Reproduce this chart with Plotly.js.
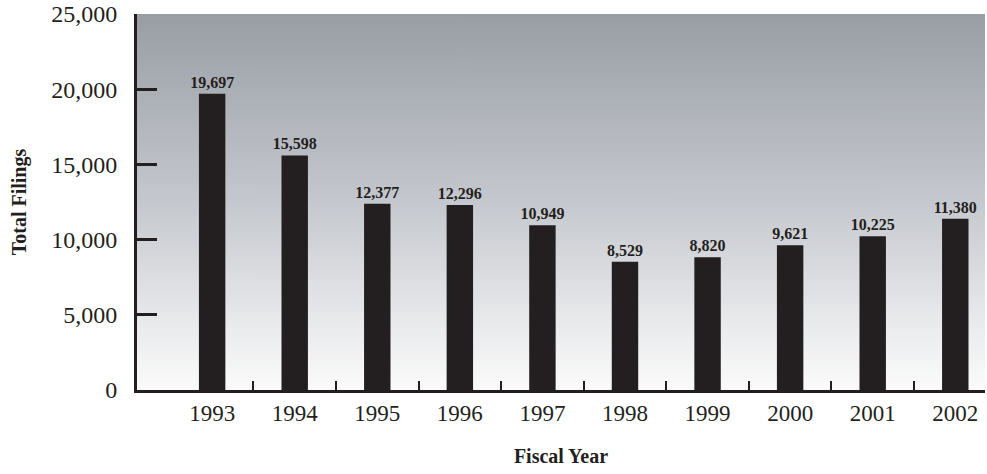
<!DOCTYPE html>
<html>
<head>
<meta charset="utf-8">
<script src="https://cdn.plot.ly/plotly-3.0.1.min.js"></script>
<style>html,body{margin:0;padding:0;background:#fff;}#chart{width:987px;height:474px;}</style>
</head>
<body>
<div id="chart"></div>
<script>
var years = ["1993","1994","1995","1996","1997","1998","1999","2000","2001","2002"];
var filings = [19697, 15598, 12377, 12296, 10949, 8529, 8820, 9621, 10225, 11380];
var yTickVals = [0, 5000, 10000, 15000, 20000, 25000];

var idx = years.map(function(_, i){ return i; });
var between = idx.slice(0, -1).map(function(i){ return i + 0.5; });

// vertical grey-to-white gradient for the plot area
var cv = document.createElement('canvas');
cv.width = 4; cv.height = 400;
var cx = cv.getContext('2d');
var g = cx.createLinearGradient(0, 0, 0, 400);
g.addColorStop(0, '#999ea5');
g.addColorStop(0.5, '#c5c8ce');
g.addColorStop(0.82, '#e9eaec');
g.addColorStop(1, '#fbfbfb');
cx.fillStyle = g; cx.fillRect(0, 0, 4, 400);
var bg = cv.toDataURL();

var font = '"Liberation Serif", "Times New Roman", serif';
var ink = '#231f20';

var trace = {
  type: 'bar',
  x: idx,
  y: filings,
  width: 0.32,
  marker: {color: ink, line: {width: 0}},
  text: filings.map(function(v){ return v.toLocaleString('en-US'); }),
  textposition: 'outside',
  constraintext: 'none',
  cliponaxis: false,
  textfont: {family: font, size: 16, color: ink, weight: 'bold'},
  hoverinfo: 'skip'
};

var layout = {
  width: 987, height: 474,
  margin: {l: 137, r: 2, t: 14, b: 84},
  paper_bgcolor: '#ffffff',
  plot_bgcolor: 'rgba(0,0,0,0)',
  showlegend: false,
  font: {family: font, color: ink},
  images: [{source: bg, xref: 'paper', yref: 'paper', x: 0, y: 1, sizex: 1, sizey: 1,
            sizing: 'stretch', xanchor: 'left', yanchor: 'top', layer: 'below'}],
  xaxis: {
    range: [-0.91, 9.36],
    tickmode: 'array', tickvals: idx, ticktext: years,
    ticks: '', showgrid: false, zeroline: false,
    showline: true, linecolor: ink, linewidth: 3,
    tickfont: {family: font, size: 23, color: ink},
    minor: {tickvals: between, ticks: 'inside', ticklen: 9, tickwidth: 2, tickcolor: ink, showgrid: false},
    title: {text: 'Fiscal Year', font: {family: font, size: 20, color: ink, weight: 'bold'}, standoff: 25},
    fixedrange: true
  },
  yaxis: {
    range: [0, 25000],
    tickmode: 'array', tickvals: yTickVals,
    tickformat: ',',
    ticks: 'inside', ticklen: 20, tickwidth: 3, tickcolor: ink,
    ticklabelstandoff: 12,
    showgrid: false, zeroline: false,
    showline: true, linecolor: ink, linewidth: 3,
    tickfont: {family: font, size: 24, color: ink},
    title: {text: 'Total Filings', font: {family: font, size: 20, color: ink, weight: 'bold'}, standoff: 20},
    fixedrange: true
  }
};

Plotly.newPlot('chart', [trace], layout, {displayModeBar: false, staticPlot: true});
</script>
</body>
</html>
